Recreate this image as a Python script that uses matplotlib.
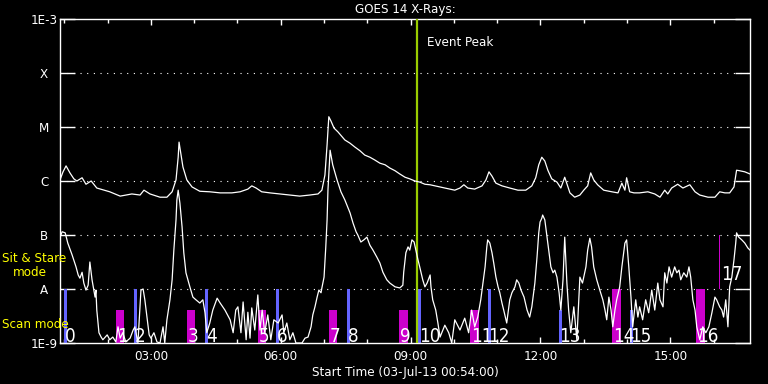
import numpy as np
import matplotlib
matplotlib.use("Agg")
import matplotlib.pyplot as plt
from matplotlib import font_manager
from matplotlib.ticker import FixedLocator, NullLocator

# GOES long channel (1-8 A), hours of day vs log10 flux
long_t = [0.90, 0.97, 1.04, 1.13, 1.22, 1.29, 1.41, 1.50, 1.62, 1.75,
          1.92, 2.05, 2.29, 2.56, 2.75, 2.84, 2.98, 3.21, 3.37, 3.49,
          3.58, 3.63, 3.65, 3.69, 3.74, 3.83, 3.95, 4.13, 4.36, 4.60,
          4.87, 5.06, 5.24, 5.33, 5.43, 5.56, 5.75, 5.98, 6.21, 6.44,
          6.67, 6.86, 6.95, 7.02, 7.07, 7.11, 7.16, 7.23, 7.32, 7.48,
          7.60, 7.71, 7.83, 7.94, 8.06, 8.17, 8.29, 8.41, 8.52, 8.64,
          8.75, 8.87, 8.98, 9.10, 9.21, 9.33, 9.45, 9.56, 9.68, 9.79,
          9.91, 10.02, 10.14, 10.23, 10.32, 10.48, 10.65, 10.74, 10.81, 10.88,
          10.97, 11.11, 11.29, 11.48, 11.66, 11.80, 11.89, 11.96, 12.03, 12.10,
          12.17, 12.26, 12.38, 12.47, 12.56, 12.68, 12.79, 12.91, 13.00, 13.09,
          13.16, 13.23, 13.32, 13.46, 13.65, 13.79, 13.88, 13.95, 13.99, 14.06,
          14.16, 14.29, 14.48, 14.64, 14.76, 14.87, 14.94, 15.03, 15.17, 15.29,
          15.45, 15.57, 15.68, 15.87, 16.03, 16.14, 16.26, 16.37, 16.47, 16.53,
          16.60, 16.72, 16.84]
long_log = [-5.98, -5.83, -5.72, -5.85, -5.96, -6.00, -5.94, -6.06, -6.00, -6.13,
            -6.17, -6.20, -6.28, -6.24, -6.26, -6.17, -6.24, -6.30, -6.30, -6.20,
            -5.98, -5.56, -5.28, -5.48, -5.74, -5.98, -6.11, -6.19, -6.20, -6.22,
            -6.22, -6.20, -6.15, -6.09, -6.13, -6.20, -6.22, -6.24, -6.26, -6.28,
            -6.26, -6.24, -6.17, -5.89, -5.33, -4.81, -4.89, -5.02, -5.09, -5.24,
            -5.30, -5.37, -5.44, -5.52, -5.56, -5.61, -5.67, -5.70, -5.76, -5.81,
            -5.87, -5.93, -5.96, -6.00, -6.02, -6.06, -6.07, -6.09, -6.11, -6.13,
            -6.15, -6.17, -6.13, -6.07, -6.13, -6.15, -6.09, -5.98, -5.83, -5.91,
            -6.04, -6.09, -6.13, -6.17, -6.17, -6.09, -5.94, -5.70, -5.56, -5.63,
            -5.80, -5.96, -6.02, -6.13, -5.93, -6.22, -6.30, -6.26, -6.17, -6.09,
            -5.85, -5.98, -6.07, -6.17, -6.20, -6.22, -6.04, -6.17, -5.94, -6.20,
            -6.22, -6.22, -6.20, -6.24, -6.30, -6.17, -6.24, -6.13, -6.06, -6.13,
            -6.07, -6.20, -6.26, -6.30, -6.30, -6.20, -6.22, -6.22, -6.11, -5.80,
            -5.81, -5.83, -5.87]

# GOES short channel (0.5-4 A)
short_t = [0.92, 0.95, 1.02, 1.08, 1.18, 1.27, 1.32, 1.36, 1.41, 1.45,
           1.50, 1.55, 1.59, 1.64, 1.71, 1.73, 1.75, 1.80, 1.85, 1.89,
           1.99, 2.05, 2.12, 2.19, 2.24, 2.29, 2.35, 2.42, 2.52, 2.59,
           2.63, 2.70, 2.77, 2.82, 2.86, 2.91, 2.96, 3.00, 3.07, 3.14,
           3.21, 3.28, 3.32, 3.37, 3.44, 3.49, 3.53, 3.58, 3.60, 3.63,
           3.67, 3.72, 3.76, 3.81, 3.90, 3.97, 4.04, 4.13, 4.20, 4.25,
           4.29, 4.36, 4.43, 4.53, 4.60, 4.71, 4.83, 4.90, 4.96, 5.01,
           5.08, 5.13, 5.20, 5.24, 5.29, 5.33, 5.40, 5.47, 5.52, 5.57,
           5.63, 5.70, 5.77, 5.84, 5.94, 6.03, 6.07, 6.14, 6.21, 6.28,
           6.35, 6.49, 6.56, 6.63, 6.70, 6.74, 6.79, 6.84, 6.88, 6.93,
           6.95, 7.00, 7.04, 7.07, 7.09, 7.14, 7.20, 7.30, 7.39, 7.48,
           7.60, 7.67, 7.74, 7.78, 7.85, 7.92, 7.99, 8.06, 8.13, 8.22,
           8.29, 8.36, 8.45, 8.52, 8.64, 8.75, 8.82, 8.84, 8.89, 8.94,
           8.98, 9.03, 9.08, 9.12, 9.17, 9.21, 9.28, 9.33, 9.38, 9.45,
           9.47, 9.51, 9.58, 9.63, 9.68, 9.79, 9.88, 9.95, 10.02, 10.14,
           10.25, 10.34, 10.41, 10.48, 10.55, 10.62, 10.67, 10.72, 10.76, 10.78,
           10.83, 10.88, 10.92, 10.97, 11.02, 11.06, 11.11, 11.15, 11.22, 11.29,
           11.34, 11.41, 11.45, 11.50, 11.55, 11.62, 11.69, 11.75, 11.80, 11.87,
           11.92, 11.96, 11.99, 12.03, 12.05, 12.10, 12.15, 12.19, 12.24, 12.29,
           12.33, 12.38, 12.43, 12.47, 12.52, 12.56, 12.61, 12.65, 12.70, 12.77,
           12.84, 12.91, 12.97, 13.05, 13.09, 13.14, 13.18, 13.23, 13.30, 13.37,
           13.44, 13.49, 13.53, 13.58, 13.63, 13.67, 13.72, 13.76, 13.83, 13.88,
           13.95, 13.99, 14.04, 14.09, 14.13, 14.20, 14.25, 14.29, 14.36, 14.43,
           14.50, 14.57, 14.64, 14.71, 14.76, 14.83, 14.87, 14.92, 14.97, 15.03,
           15.10, 15.15, 15.20, 15.24, 15.31, 15.38, 15.43, 15.47, 15.52, 15.57,
           15.61, 15.68, 15.75, 15.82, 15.89, 15.96, 16.03, 16.07, 16.14, 16.19,
           16.23, 16.28, 16.33, 16.37, 16.42, 16.47, 16.51, 16.53, 16.58, 16.65,
           16.72, 16.79, 16.84]
short_log = [-7.00, -6.94, -6.96, -7.15, -7.37, -7.59, -7.74, -7.80, -7.69, -7.89,
             -8.02, -7.93, -7.50, -7.83, -8.15, -8.02, -8.39, -8.81, -8.89, -8.94,
             -8.85, -8.94, -8.89, -8.98, -8.70, -8.91, -8.81, -8.98, -8.91, -8.76,
             -8.70, -9.00, -8.02, -8.00, -8.20, -8.52, -8.85, -8.91, -8.81, -8.98,
             -9.00, -8.70, -9.00, -8.57, -8.20, -7.83, -7.28, -6.72, -6.35, -6.17,
             -6.41, -6.85, -7.33, -7.70, -7.96, -8.15, -8.20, -8.26, -8.20, -8.44,
             -8.81, -8.63, -8.39, -8.17, -8.26, -8.39, -8.57, -8.81, -8.39, -8.33,
             -8.81, -8.24, -8.94, -8.43, -8.91, -8.35, -8.76, -8.11, -8.76, -8.39,
             -8.81, -8.48, -8.94, -8.57, -8.63, -8.48, -8.81, -8.63, -8.94, -8.81,
             -9.00, -9.00, -8.91, -8.89, -8.70, -8.48, -8.33, -8.15, -8.02, -8.07,
             -7.98, -7.78, -7.22, -6.72, -6.17, -5.43, -5.70, -5.98, -6.20, -6.35,
             -6.59, -6.78, -6.94, -7.00, -7.13, -7.09, -7.04, -7.19, -7.28, -7.41,
             -7.52, -7.69, -7.83, -7.89, -7.96, -7.98, -7.93, -7.69, -7.33, -7.22,
             -7.28, -7.09, -7.13, -7.28, -7.46, -7.59, -7.83, -7.96, -7.89, -7.74,
             -7.96, -8.20, -8.39, -8.63, -8.89, -8.67, -8.81, -9.00, -8.57, -8.76,
             -8.54, -8.81, -8.39, -8.70, -8.52, -8.20, -7.89, -7.59, -7.22, -7.09,
             -7.15, -7.33, -7.52, -7.78, -7.96, -8.07, -8.26, -8.39, -8.63, -8.20,
             -8.07, -7.96, -7.83, -7.89, -8.02, -8.15, -8.39, -8.52, -8.33, -7.89,
             -7.41, -6.96, -6.76, -6.69, -6.63, -6.72, -7.04, -7.28, -7.59, -7.70,
             -7.65, -7.78, -8.07, -8.39, -7.83, -7.04, -7.89, -8.39, -8.81, -8.33,
             -8.94, -7.78, -7.89, -7.59, -7.28, -7.06, -7.22, -7.59, -7.83, -8.02,
             -8.20, -8.39, -8.57, -8.15, -8.39, -8.70, -8.39, -8.20, -7.96, -7.59,
             -7.15, -7.09, -7.59, -8.15, -8.70, -8.20, -8.52, -8.33, -8.57, -8.20,
             -8.44, -8.02, -8.39, -7.89, -8.20, -8.33, -7.70, -7.89, -7.59, -7.78,
             -7.59, -7.70, -7.65, -7.83, -7.70, -7.78, -7.59, -7.78, -8.20, -8.39,
             -8.70, -8.94, -8.70, -8.81, -8.70, -8.44, -8.15, -8.20, -8.33, -8.39,
             -8.52, -8.20, -8.70, -7.96, -7.78, -7.46, -7.15, -6.96, -7.04, -7.09,
             -7.15, -7.24, -7.28]

# observations (numbered bars)
obs_label = [str(i) for i in range(18)]
obs_start = [0.99, 2.19, 2.61, 3.83, 4.25, 5.47, 5.89, 7.11, 7.53, 8.73,
             9.17, 10.37, 10.78, 12.42, 13.65, 14.06, 15.59, 16.12]
obs_kind = ['b', 'm', 'b', 'm', 'b', 'm', 'b', 'm', 'b', 'm',
            'b', 'm', 'b', 'b', 'm', 'b', 'm', 's']
obs_top = [-8.0, -8.39, -8.0, -8.39, -8.0, -8.39, -8.0, -8.39, -8.0, -8.39,
           -8.0, -8.39, -8.0, -8.39, -8.0, -8.39, -8.0, -7.0]
obs_bottom = [-9.0] * 17 + [-8.0]

event_peak = 9.15
hour_ticks = [3, 6, 9, 12, 15]
level_names = ['1E-9', 'A', 'B', 'C', 'M', 'X', '1E-3']

assert len(long_t) == len(long_log)
assert len(short_t) == len(short_log)

names = {f.name for f in font_manager.fontManager.ttflist}
font = 'Liberation Sans Narrow' if 'Liberation Sans Narrow' in names else 'DejaVu Sans'
plt.rcParams['font.family'] = [font, 'DejaVu Sans']
plt.rcParams['font.stretch'] = 'condensed'

kind_color = {'b': '#6464ff', 'm': '#cc00cc', 's': '#cc00cc'}
kind_width = {'b': 0.08, 'm': 0.2, 's': 0.025}
fs = 9.5

fig = plt.figure(figsize=(7.68, 3.84), dpi=100, facecolor='black')
ax = fig.add_axes([60 / 768, 41 / 384, 690 / 768, 324 / 384])
ax.set_facecolor('black')
ax.set_yscale('log')
ax.set_xlim(0.9, 16.84)
ax.set_ylim(1e-9, 1e-3)

# dotted levels
for lv in range(-8, -3):
    ax.axhline(10.0 ** lv, color='white', lw=0.8, ls=(0, (1, 5)), zorder=1)

for t0, kind, top, bot in zip(obs_start, obs_kind, obs_top, obs_bottom):
    ax.bar(t0, 10.0 ** top - 10.0 ** bot, bottom=10.0 ** bot, width=kind_width[kind],
           align='edge', color=kind_color[kind], lw=0, zorder=2)

ax.axvline(event_peak, color='#9acd00', lw=1.6, zorder=3)
ax.text(event_peak + 0.23, 10 ** -3.44, 'Event Peak', color='white',
        fontsize=fs, va='center', ha='left')

ax.plot(long_t, 10.0 ** np.array(long_log), color='white', lw=0.9, zorder=4)
ax.plot(short_t, 10.0 ** np.array(short_log), color='white', lw=0.9, zorder=4)

for lab, t0, kind in zip(obs_label, obs_start, obs_kind):
    if kind == 's':
        ax.text(t0 + 0.05, 10 ** -7.83, lab, color='white', fontsize=13.5,
                va='baseline', ha='left', zorder=5)
    else:
        ax.text(t0 + 0.02, 10 ** -8.98, lab, color='white', fontsize=13.5,
                va='baseline', ha='left', zorder=5)

for s in ax.spines.values():
    s.set_color('white')
    s.set_linewidth(1.0)

ax.yaxis.set_major_locator(FixedLocator([10.0 ** e for e in range(-9, -2)]))
ax.yaxis.set_minor_locator(NullLocator())
ax.set_yticklabels(level_names)
ax.tick_params(axis='y', which='major', direction='in', length=10.8, width=1,
               colors='white', left=True, right=True, labelsize=fs, pad=11.5)
for lab in ax.get_yticklabels():
    lab.set_horizontalalignment('center')

ax.set_xticks(hour_ticks)
ax.set_xticklabels(['%02d:00' % h for h in hour_ticks])
ax.xaxis.set_minor_locator(FixedLocator(list(range(1, 17))))
ax.tick_params(axis='x', which='major', direction='in', length=4.5, width=1,
               colors='white', top=True, bottom=True, labelsize=fs, pad=5)
ax.tick_params(axis='x', which='minor', direction='in', length=3, width=1,
               colors='white', top=True, bottom=True)

ax.set_title('GOES 14 X-Rays:', color='white', fontsize=fs, pad=4)
ax.set_xlabel('Start Time (03-Jul-13 00:54:00)', color='white', fontsize=fs, labelpad=2)

fig.text(2 / 768, 1 - 259 / 384, 'Sit & Stare', color='#ffff00', fontsize=fs, va='center')
fig.text(13 / 768, 1 - 272 / 384, 'mode', color='#ffff00', fontsize=fs, va='center')
fig.text(2 / 768, 1 - 324 / 384, 'Scan mode', color='#ffff00', fontsize=fs, va='center')

fig.savefig('out.png', dpi=100, facecolor='black')
